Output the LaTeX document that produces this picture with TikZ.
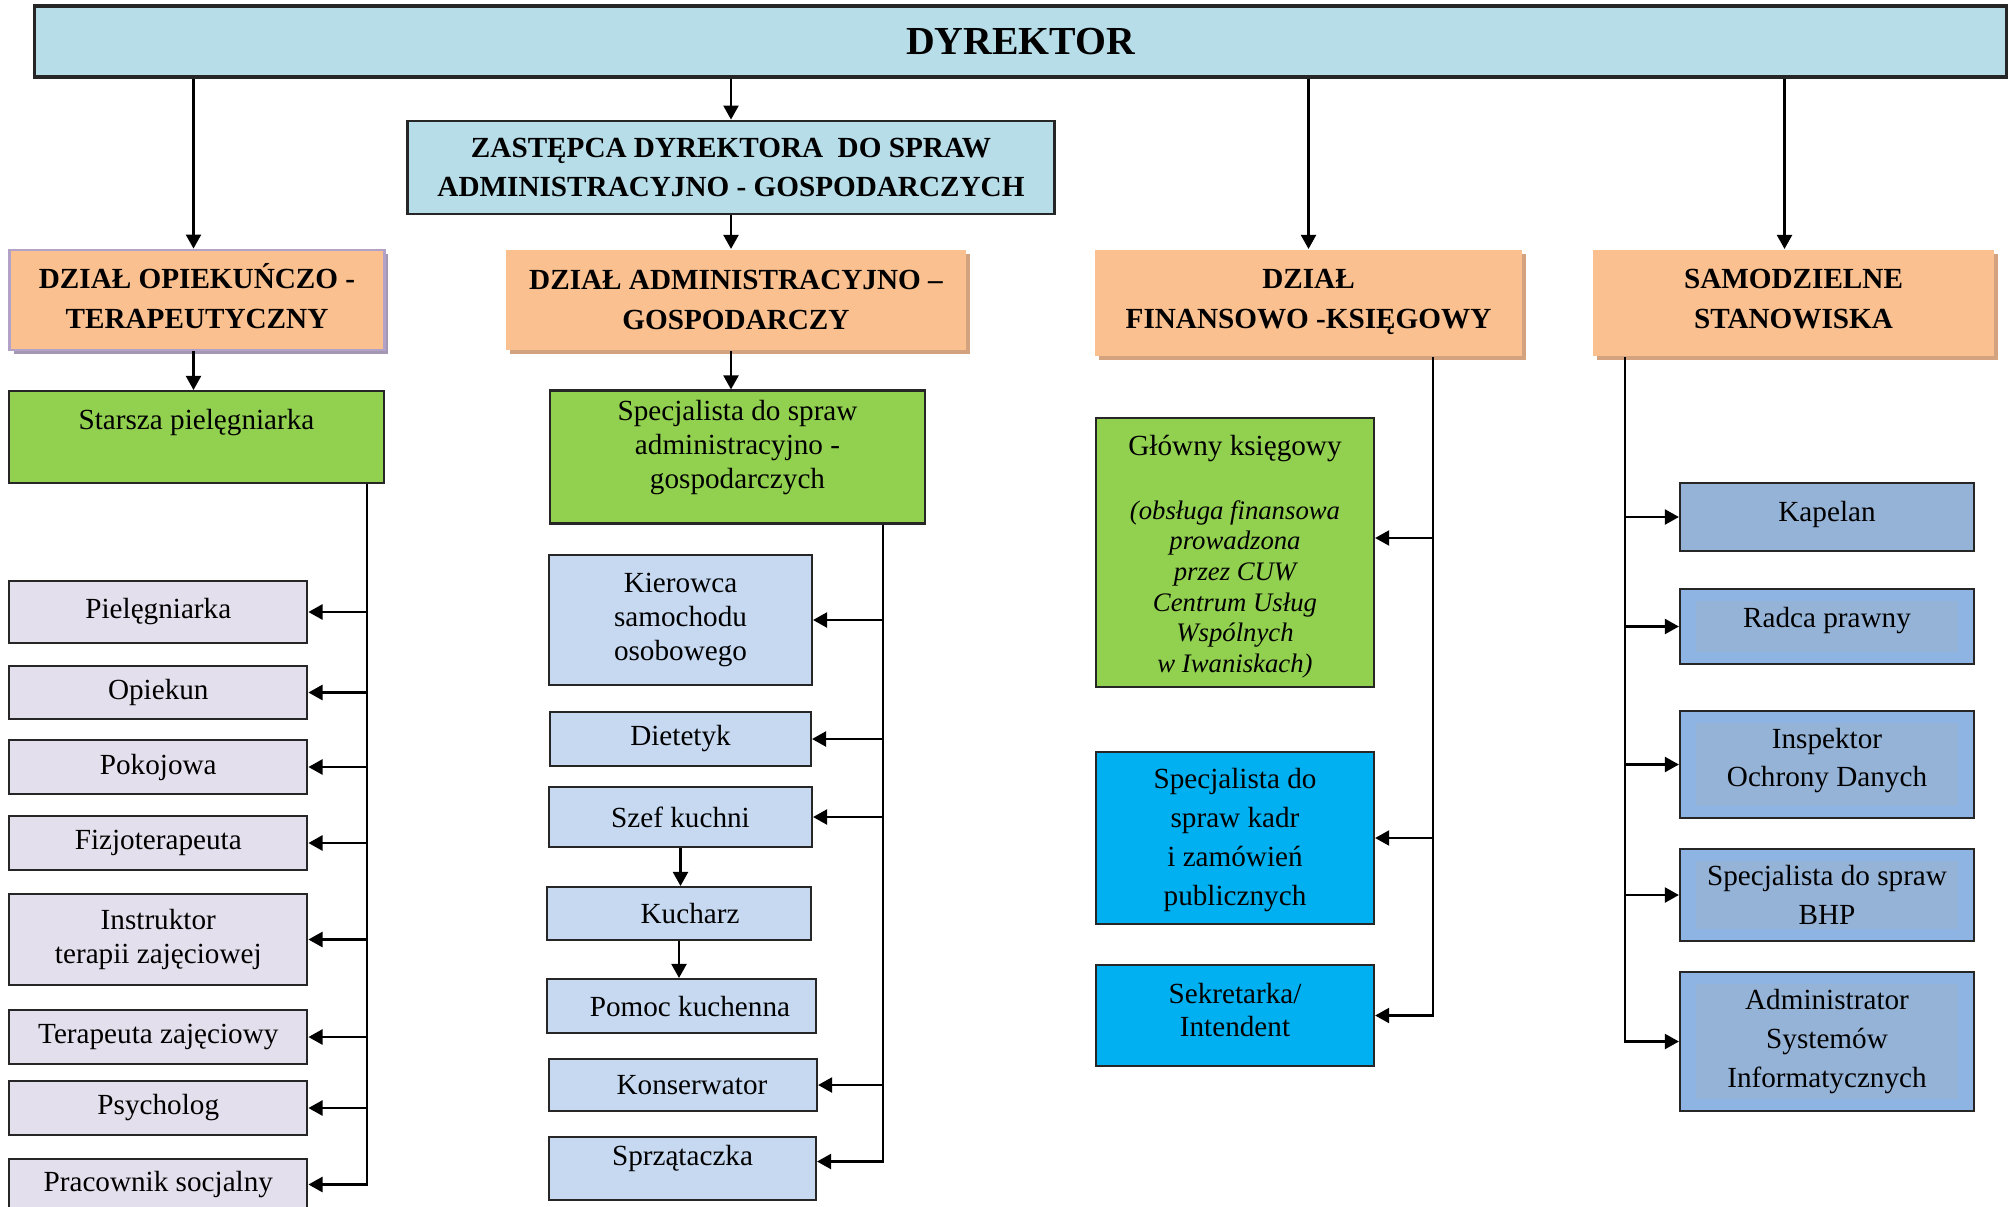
\documentclass[tikz,border=0pt]{standalone}
\usepackage{fontspec}
\setmainfont{Liberation Serif}
\usepackage{tikz}
\usetikzlibrary{arrows.meta,shadows}
\definecolor{dyrblue}{HTML}{B7DDE8}
\definecolor{dzfill}{HTML}{FAC090}
\definecolor{dzshadow}{HTML}{D3A27F}
\definecolor{lavshadow}{HTML}{A497B2}
\definecolor{lavborder}{HTML}{B3A2C7}
\definecolor{kiergreen}{HTML}{92D050}
\definecolor{lavfill}{HTML}{E4DFEC}
\definecolor{admblue}{HTML}{C6D9F1}
\definecolor{kadrcyan}{HTML}{00B0F0}
\definecolor{samblue}{HTML}{8DB4E2}
\definecolor{saminner}{HTML}{95B3D7}
\newcommand{\uwaga}[1]{{\fontsize{7.6}{8.7}\selectfont\itshape #1}}
\newcommand{\dol}[1]{\rule[-#1]{0pt}{0pt}}

\begin{document}
\begin{tikzpicture}[x=0.01cm, y=-0.01cm, >={Triangle[length=4pt,width=4.3pt]},
  box/.style={draw=black!85, line width=0.6pt, inner sep=0pt, align=center,
              font=\fontsize{8.3}{9.7}\selectfont},
  dept/.style={box, draw=none, fill=dzfill, minimum height=1cm,
               font=\bfseries\fontsize{8.3}{11.3}\selectfont,
               general shadow={fill=#1, shadow xshift=0.04cm, shadow yshift=-0.04cm}},
  dept/.default=dzshadow,
  sam/.style={box, fill=samblue, minimum width=2.94cm, font=\fontsize{8.3}{11}\selectfont,
              path picture={\fill[saminner] ([shift={(0.16cm,-0.12cm)}]path picture bounding box.north west)
                rectangle ([shift={(-0.16cm,0.12cm)}]path picture bounding box.south east);}},
  link/.style={line width=0.6pt, ->}]
  \useasboundingbox (0,0) rectangle (2010,1206);
  \clip (0,0) rectangle (2010,1206);

  \node[box, fill=dyrblue, line width=0.9pt, minimum width=19.71cm, minimum height=0.71cm,
        font=\bfseries\fontsize{11.3}{13}\selectfont] (dyr) at (1020.5,41.5) {DYREKTOR};
  \node[box, fill=dyrblue, line width=0.8pt, minimum width=6.46cm, minimum height=0.93cm,
        font=\bfseries\fontsize{8.3}{11.1}\selectfont] (zast) at (731,167.5)
        {ZASTĘPCA DYREKTORA\ \ DO SPRAW\\ADMINISTRACYJNO - GOSPODARCZYCH};

  \node[dept=lavshadow, draw=lavborder, line width=0.8pt, minimum width=3.74cm] (opiekd) at (197,300)
        {DZIAŁ OPIEKUŃCZO -\\TERAPEUTYCZNY\dol{2.2pt}};
  \node[dept, minimum width=4.6cm] (admind) at (736,300) {DZIAŁ ADMINISTRACYJNO –\\GOSPODARCZY};
  \node[dept, minimum width=4.27cm, minimum height=1.06cm] (finand) at (1308.5,303)
        {DZIAŁ\\FINANSOWO -KSIĘGOWY\dol{2.2pt}};
  \node[dept, minimum width=4.01cm, minimum height=1.06cm] (samod) at (1793.5,303)
        {SAMODZIELNE\\STANOWISKA\dol{2.2pt}};

  \node[box, fill=kiergreen, minimum width=3.75cm, minimum height=0.92cm] (starsza) at (196.5,437) {};
  \node[inner sep=0pt, font=\fontsize{8.3}{9.7}\selectfont] (starszat)
        at ([yshift=-0.33cm]starsza.north) {Starsza pielęgniarka};
  \node[box, fill=kiergreen, minimum width=3.75cm, minimum height=1.33cm] (specadm) at (737.5,457) {};
  \node[inner sep=0pt, align=center, font=\fontsize{8.3}{9.7}\selectfont] (specadmt)
        at ([yshift=0.095cm]specadm.center) {Specjalista do spraw\\administracyjno -\\gospodarczych};
  \node[box, fill=kiergreen, minimum width=2.78cm, minimum height=2.69cm,
        font=\fontsize{8.3}{8.7}\selectfont] (glowny) at (1235,552.5)
        {\rule{0pt}{8pt}Główny księgowy\\[9.5pt]\uwaga{(obsługa finansowa}\\\uwaga{prowadzona}\\
         \uwaga{przez CUW}\\\uwaga{Centrum Usług}\\\uwaga{Wspólnych}\\\uwaga{w Iwaniskach)}};

  \foreach \n/\ya/\yb/\t in {piel/581/643/Pielęgniarka, opiekun/666/719/Opiekun,
      pokoj/740/794/Pokojowa, fizjo/816/870/Fizjoterapeuta,
      instr/894/985/{Instruktor\\terapii zajęciowej}, terap/1010/1064/Terapeuta zajęciowy,
      psych/1081/1135/Psycholog, prac/1159/1210/Pracownik socjalny}
    \node[box, fill=lavfill, minimum width=2.98cm, minimum height={(\yb-\ya)*0.01cm}]
      (\n) at (158.3,{(\ya+\yb)/2}) {\t};

  \foreach \n/\xa/\xb/\ya/\yb/\t in {kier/549/812/555/685/{Kierowca\\samochodu\\osobowego},
      diet/550/811/712/766/Dietetyk, szef/549/812/787/847/Szef kuchni,
      kuch/547/811/887/940/\hspace{6.3pt}Kucharz, pomoc/547/816/979/1033/\hspace{4.8pt}Pomoc kuchenna,
      kons/549/817/1059/1111/\hspace{5.1pt}Konserwator, sprz/549/816/1137/1200/Sprzątaczka\dol{7.2pt}}
    \node[box, fill=admblue, minimum width={(\xb-\xa)*0.01cm}, minimum height={(\yb-\ya)*0.01cm}]
      (\n) at ({(\xa+\xb)/2},{(\ya+\yb)/2}) {\t};

  \node[box, fill=kadrcyan, minimum width=2.78cm, minimum height=1.72cm,
        font=\fontsize{8.3}{11.1}\selectfont] (kadr) at (1235,838)
        {\rule{0pt}{7.1pt}Specjalista do\\spraw kadr\\i zamówień\\publicznych};
  \node[box, fill=kadrcyan, minimum width=2.78cm, minimum height=1.01cm,
        font=\fontsize{8.3}{9.5}\selectfont] (sekr) at (1235,1015.5) {Sekretarka/\\Intendent\dol{3.1pt}};

  \node[box, fill=saminner, minimum width=2.94cm, minimum height=0.68cm] (kap) at (1827,517)
        {Kapelan\dol{3.2pt}};
  \foreach \n/\ya/\yb/\t in {radca/589/664/Radca prawny\dol{5.4pt}, insp/711/818/{Inspektor\\Ochrony Danych\dol{4pt}},
      bhp/849/941/{Specjalista do spraw\\BHP}, adm/972/1111/{Administrator\\Systemów\\Informatycznych}}
    \node[sam, minimum height={(\yb-\ya)*0.01cm}] (\n) at (1827,{(\ya+\yb)/2}) {\t};

  \coordinate (opin) at ([xshift=-0.035cm]opiekd.north);
  \coordinate (samin) at ([xshift=-0.09cm]samod.north);
  \draw[link] (dyr.south -| opin) -- (opin);
  \draw[link] (dyr.south -| zast.north) -- (zast.north);
  \draw[link] (dyr.south -| finand.north) -- (finand.north);
  \draw[link] (dyr.south -| samin) -- (samin);
  \draw[link] (zast.south) -- (zast.south |- admind.north);
  \draw[link] (zast.south |- admind.south) -- (zast.south |- specadm.north);
  \draw[link] (opin |- opiekd.south) -- (opin |- starsza.north);

  \coordinate (busA) at ([xshift=-0.18cm]starsza.south east);
  \draw[link] (busA) |- (prac.east);
  \foreach \n in {piel,opiekun,pokoj,fizjo,instr,terap,psych}
    \draw[link] (busA |- \n.east) -- (\n.east);

  \coordinate (busB) at ([xshift=-0.43cm]specadm.south east);
  \coordinate (sprzin) at ([yshift=0.07cm]sprz.east);
  \draw[link] (busB) |- (sprzin);
  \foreach \n in {kier,diet,szef,kons}
    \draw[link] (busB |- \n.east) -- (\n.east);
  \draw[link] (szef.south) -- (szef.south |- kuch.north);
  \draw[link] (kuch.south) -- (kuch.south |- pomoc.north);

  \coordinate (busC) at ([xshift=-0.9cm]finand.south east);
  \coordinate (glin) at ([yshift=0.145cm]glowny.east);
  \draw[link] (busC) |- (sekr.east);
  \draw[link] (busC |- glin) -- (glin);
  \draw[link] (busC |- kadr.east) -- (kadr.east);

  \coordinate (busD) at ([xshift=0.33cm]samod.south west);
  \draw[link] (busD) |- (adm.west);
  \foreach \n in {kap,radca,insp,bhp}
    \draw[link] (busD |- \n.west) -- (\n.west);
\end{tikzpicture}
\end{document}
